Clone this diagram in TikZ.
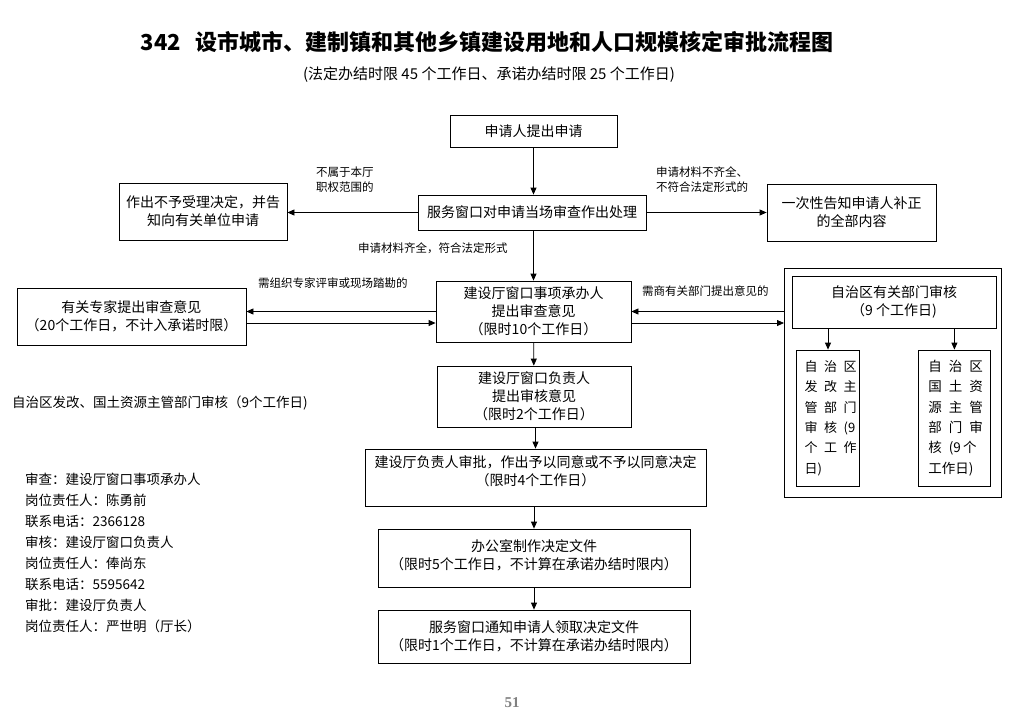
\documentclass[tikz,border=0pt]{standalone}
\usepackage{fontspec}
\setmainfont{Noto Sans CJK SC}
\newfontfamily\pagenumfont{Liberation Serif}
\usetikzlibrary{arrows.meta,calc}
\newcommand{\fs}[2]{\fontsize{#1pt}{#2pt}\selectfont}
\newcommand{\cc}[1]{\makebox[20.5pt][l]{#1}}
\newcommand{\cn}[1]{\makebox[19.5pt][l]{#1}}
\begin{document}
\begin{tikzpicture}[x=1pt,y=-1pt,
  box/.style={draw,line width=0.8pt,align=center,inner sep=0pt,font=\fs{14}{18}},
  lbl/.style={anchor=west,inner sep=0pt,align=left,font=\fs{11.5}{15}},
  arr/.style={line width=0.8pt,-{Triangle[length=7pt,width=6pt]}},
  plain/.style={line width=0.8pt}]
\useasboundingbox (0,0) rectangle (1025,721);
% title
\node[inner sep=0pt,font=\fs{22}{26}\bfseries] (title) at (487,42) {342\hspace{14pt}设市城市、建制镇和其他乡镇建设用地和人口规模核定审批流程图};
\node[inner sep=0pt,font=\fs{15}{18}] (sub) at (489,75) {(法定办结时限 45 个工作日、承诺办结时限 25 个工作日)};
% main column
\node[box,minimum width=167pt,minimum height=32pt] (apply) at (533.5,131) {申请人提出申请};
\node[box,minimum width=228pt,minimum height=35pt] (window) at (532,212.5) {服务窗口对申请当场审查作出处理};
\node[box,minimum width=168pt,minimum height=57pt] (reject) at (203,211.5) {作出不予受理决定，并告\\知向有关单位申请};
\node[box,minimum width=169pt,minimum height=57pt] (notify) at (851.5,212.5) {一次性告知申请人补正\\的全部内容};
\node[box,minimum width=195pt,minimum height=61pt] (handler) at (533.5,311.5) {建设厅窗口事项承办人\\提出审查意见\\（限时10个工作日）};
\node[box,minimum width=229pt,minimum height=57pt] (expert) at (131.5,316.5) {有关专家提出审查意见\\（20个工作日，不计入承诺时限）};
\node[box,minimum width=194pt,minimum height=61pt] (head) at (534,396.5) {建设厅窗口负责人\\提出审核意见\\（限时2个工作日）};
\node[box,minimum width=341pt,minimum height=57pt,text depth=14pt] (approve) at (535.5,477.5) {建设厅负责人审批，作出予以同意或不予以同意决定\\（限时4个工作日）};
\node[box,minimum width=312pt,minimum height=58pt,text depth=6pt] (office) at (534,558) {办公室制作决定文件\\（限时5个工作日，不计算在承诺办结时限内）};
\node[box,minimum width=312pt,minimum height=53pt] (inform) at (534,636.5) {服务窗口通知申请人领取决定文件\\（限时1个工作日，不计算在承诺办结时限内）};
% right group
\draw[plain] (784,268) rectangle (1001,497);
\node[box,minimum width=204pt,minimum height=52pt] (dept) at (894,302) {自治区有关部门审核\\（9 个工作日)};
\node[box,align=left,text width=46.6pt,inner xsep=8pt,minimum height=136pt,font=\fs{13}{20.4}] (fg) at (828,418)
 {\cn{自}\cn{治}区\\\cn{发}\cn{改}主\\\cn{管}\cn{部}门\\\cn{审}\cn{核}(9\\\cn{个}\cn{工}作\\日)};
\node[box,align=left,text width=52pt,inner xsep=10.3pt,minimum height=136pt,font=\fs{13.5}{20.4}] (gt) at (954.4,418)
 {\cc{自}\cc{治}区\\\cc{国}\cc{土}资\\\cc{源}\cc{主}管\\\cc{部}\cc{门}审\\\cc{核}(9\,个\\工作日)};
% labels
\node[lbl] (l1) at (316,180) {不属于本厅\\职权范围的};
\node[lbl] (l2) at (656,180) {申请材料不齐全、\\不符合法定形式的};
\node[lbl] (l3) at (358,248) {申请材料齐全，符合法定形式};
\node[lbl] (l4) at (258,283) {需组织专家评审或现场踏勘的};
\node[lbl] (l5) at (642,291) {需商有关部门提出意见的};
\node[anchor=west,inner sep=0pt,font=\fs{13.5}{17}] (l6) at (12,403) {自治区发改、国土资源主管部门审核（9个工作日)};
\node[anchor=north west,inner sep=0pt,align=left,font=\fs{13.5}{21}] (info) at (25,473)
 {审查：建设厅窗口事项承办人\\岗位责任人：陈勇前\\联系电话：2366128\\审核：建设厅窗口负责人\\岗位责任人：俸尚东\\联系电话：5595642\\审批：建设厅负责人\\岗位责任人：严世明（厅长）};
\node[inner sep=0pt,font=\pagenumfont\bfseries\fontsize{15pt}{17pt}\selectfont,text=gray] (pn) at (512,703) {51};
% connectors
\draw[arr] (apply.south) -- (apply.south |- window.north);
\draw[arr] (window.south -| apply.south) -- (handler.north -| apply.south);
\draw[arr] (handler) -- (head);
\draw[arr] (head) -- (approve.north |- head.south) -- (approve.north);
\draw[arr] (approve.south -| office.north) -- (office);
\draw[arr] (office) -- (inform);
\draw[arr] (window.west) -- (reject.east |- window.west);
\draw[arr] (window.east) -- (notify.west |- window.east);
\draw[arr] (handler.west) -- (handler.west -| expert.east);
\draw[arr] ([yshift=-11.5pt]handler.west -| expert.east) -- ([yshift=-11.5pt]handler.west);
\coordinate (ow) at (784,311.5);
\draw[arr] (ow) -- (handler.east);
\draw[arr] ([yshift=-11.5pt]handler.east) -- ([yshift=-11.5pt]ow);
\draw[arr] (fg.north |- dept.south) -- (fg.north);
\draw[arr] (gt.north |- dept.south) -- (gt.north);
\end{tikzpicture}
\end{document}
